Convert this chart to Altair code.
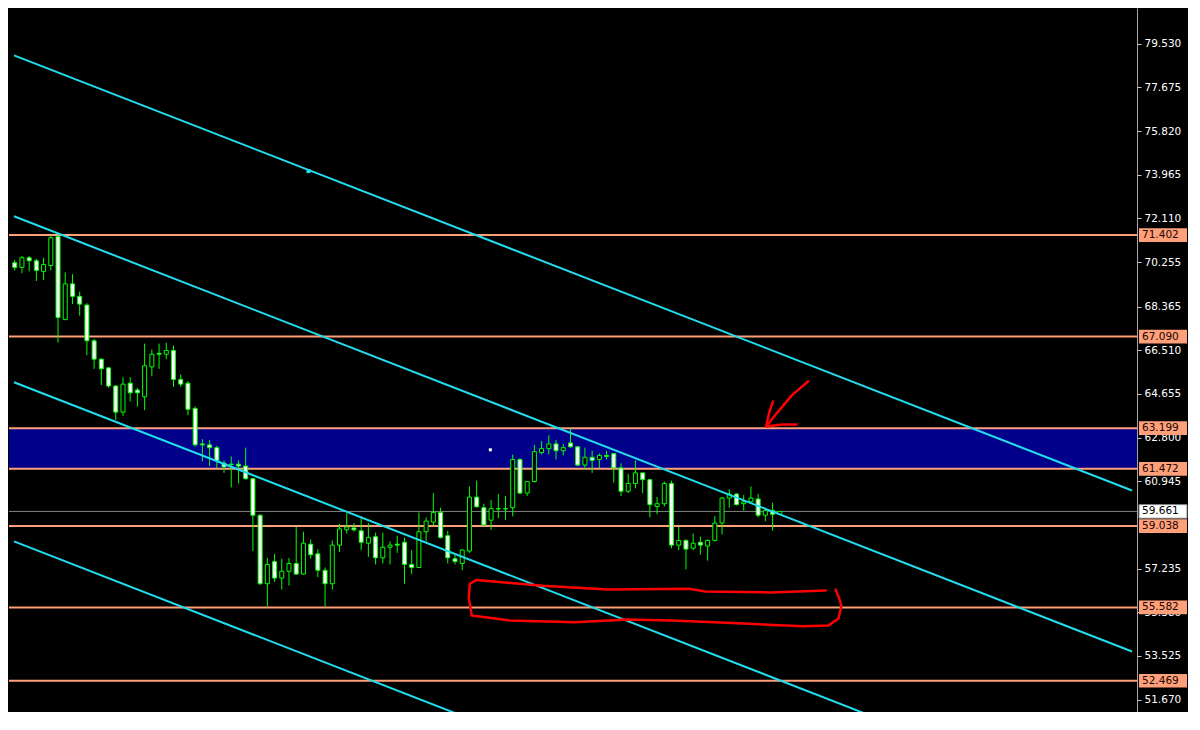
import altair as alt
import pandas as pd

# ---------------- data ----------------
opens = [70.23, 70.03, 70.44, 70.31, 69.86, 70.11, 71.34, 67.81, 69.33, 68.80,
         68.43, 66.91, 66.13, 65.76, 64.99, 63.88, 65.11, 64.82, 64.53, 65.80,
         66.38, 66.34, 66.50, 65.27, 65.11, 64.04, 62.53, 62.49, 62.37, 61.71,
         61.67, 61.67, 61.59, 61.05, 59.50, 56.59, 57.53, 56.83, 57.12, 57.45,
         57.00, 58.27, 57.86, 57.16, 56.59, 58.23, 58.88, 58.96, 58.84, 58.31,
         58.59, 57.69, 58.14, 58.27, 58.35, 57.41, 57.28, 58.80, 59.21, 59.62,
         58.63, 57.65, 57.45, 57.98, 60.27, 59.82, 59.29, 59.78, 59.78, 59.82,
         61.87, 60.44, 60.93, 62.16, 62.33, 62.53, 62.24, 62.57, 62.41, 61.63,
         61.96, 61.87, 62.04, 62.12, 61.51, 60.52, 60.85, 61.30, 61.01, 59.87,
         59.99, 60.85, 58.23, 58.43, 58.10, 58.35, 58.19, 58.43, 59.17, 60.23,
         60.40, 59.99, 60.07, 60.19, 59.50, 59.70, 59.54]
highs = [70.35, 70.52, 70.52, 70.39, 70.44, 71.38, 71.40, 69.82, 69.74, 69.00,
         68.51, 66.99, 66.17, 65.80, 65.03, 65.36, 65.36, 64.91, 66.79, 66.54,
         66.79, 66.83, 66.71, 65.48, 65.19, 64.12, 62.73, 62.69, 62.45, 61.83,
         62.00, 61.83, 62.37, 61.09, 59.54, 57.69, 57.86, 57.65, 57.69, 59.00,
         58.80, 58.47, 58.06, 57.28, 58.43, 59.13, 59.58, 59.17, 59.45, 59.17,
         58.76, 58.76, 58.39, 58.63, 58.55, 58.02, 59.62, 59.41, 60.44, 59.82,
         58.84, 57.86, 58.06, 60.72, 60.97, 59.99, 60.15, 60.40, 60.32, 62.08,
         61.92, 60.93, 62.49, 62.65, 62.90, 62.69, 62.53, 63.18, 62.41, 62.37,
         62.24, 62.12, 62.24, 62.12, 61.71, 61.26, 61.83, 61.30, 61.01, 60.27,
         60.93, 60.97, 59.00, 58.47, 58.72, 58.59, 58.47, 59.46, 60.27, 60.60,
         60.44, 60.36, 60.72, 60.40, 59.82, 60.03, 59.66]
lows = [69.90, 69.78, 69.86, 69.45, 69.49, 69.90, 66.83, 67.81, 68.47, 67.98,
        66.30, 65.72, 65.03, 64.91, 63.55, 63.72, 64.33, 64.12, 63.96, 65.40,
        65.72, 66.13, 64.95, 64.95, 63.76, 62.41, 61.79, 61.59, 61.51, 61.30,
        60.68, 60.85, 61.01, 57.98, 56.55, 55.64, 56.67, 56.34, 56.51, 56.96,
        56.96, 57.65, 56.87, 55.64, 56.34, 57.94, 58.72, 58.80, 58.02, 57.73,
        57.41, 57.45, 57.41, 57.90, 56.59, 57.00, 57.28, 58.39, 59.05, 58.51,
        57.45, 57.41, 57.16, 57.90, 59.82, 59.05, 58.88, 59.37, 59.29, 59.45,
        60.40, 60.32, 60.89, 62.08, 62.08, 61.87, 62.04, 62.37, 61.59, 61.42,
        61.30, 61.51, 61.87, 60.89, 60.31, 60.44, 60.64, 60.44, 59.41, 59.54,
        59.87, 58.10, 58.02, 57.20, 58.02, 57.82, 57.57, 58.39, 58.68, 59.82,
        59.91, 59.70, 60.03, 59.41, 59.25, 58.84, 59.54]
closes = [70.03, 70.44, 70.31, 69.90, 70.15, 71.29, 67.90, 69.33, 68.80, 68.47,
          66.91, 66.13, 65.72, 64.99, 63.88, 65.07, 64.70, 64.70, 65.85, 66.34,
          66.34, 66.50, 65.27, 65.07, 64.00, 62.49, 62.49, 62.37, 61.83, 61.55,
          61.65, 61.59, 61.05, 59.50, 56.59, 57.41, 56.83, 57.12, 57.45, 57.00,
          58.31, 57.82, 57.16, 56.59, 58.23, 58.92, 59.00, 58.88, 58.35, 58.55,
          57.69, 58.14, 58.23, 58.23, 57.41, 57.28, 58.80, 59.25, 59.62, 58.55,
          57.69, 57.53, 58.02, 60.27, 59.86, 59.09, 59.78, 59.77, 59.77, 61.87,
          60.44, 60.93, 62.20, 62.33, 62.53, 62.24, 62.37, 62.41, 61.63, 61.96,
          61.83, 62.04, 62.00, 61.51, 60.52, 60.85, 61.30, 61.01, 59.95, 59.99,
          60.85, 58.23, 58.43, 58.06, 58.31, 58.23, 58.43, 59.17, 60.23, 60.40,
          59.95, 60.07, 60.23, 59.50, 59.70, 59.54, 59.66]

level_prices = [71.402, 67.090, 63.199, 61.472, 59.038, 55.582, 52.469]
bid_price = 59.661
zone_low, zone_high = 61.472, 63.199
# 59.090 sits fully under the 59.038 price box in the reference, so it is not drawn
axis_values = [79.530, 77.675, 75.820, 73.965, 72.110, 70.255, 68.365, 66.510,
               64.655, 62.800, 60.945, 57.235, 55.380, 53.525, 51.670]

# parallel channel lines: price at left edge and at right edge (bar index)
channel_x = [-0.1, 154.8]
channel_left = [79.04, 72.20, 65.15, 58.39]
channel_right = [60.55, 53.71, 46.66, 39.90]

anchor_i, anchor_p = 40.7, 74.12
marker_i, marker_p = 65.9, 62.28

# red hand-drawn annotations (bar index, price)
loop_i = [112.37, 104.65, 95.70, 93.40, 82.15, 73.08, 64.00, 63.05, 62.91, 63.32,
          68.60, 77.55, 84.87, 91.09, 100.18, 109.26, 112.78, 114.13, 114.54,
          114.13, 113.73]
loop_p = [56.30, 56.22, 56.26, 56.38, 56.34, 56.50, 56.75, 56.59, 55.97, 55.24,
          55.03, 54.95, 55.07, 55.03, 54.91, 54.78, 54.82, 55.11, 55.65, 56.05,
          56.34]
shaft_i = [109.93, 107.63, 105.60, 104.24]
shaft_p = [65.19, 64.58, 63.84, 63.31]
head_i = [105.05, 104.51, 104.11, 106.28, 108.31]
head_p = [64.33, 63.84, 63.27, 63.35, 63.35]

# ---------------- chart ----------------
W, H = 1128, 704
X_DOM = [-0.1, 154.8]
Y_DOM = [51.14, 81.05]
FONT = "DejaVu Sans"

xs = alt.Scale(domain=X_DOM, nice=False, zero=False)
ys = alt.Scale(domain=Y_DOM, nice=False, zero=False)
yaxis = alt.Axis(orient="right", values=axis_values, format=".3f", title=None,
                 grid=False, labelColor="#FFFFFF", labelFont=FONT, labelFontSize=10.5,
                 tickColor="#C8C8C8", tickSize=4, labelPadding=3,
                 domainColor="#A8A8A8", domainWidth=1, labelOverlap=False, zindex=0)


def X(f):
    return alt.X(f, type="quantitative", scale=xs, axis=None)


def Y(f):
    return alt.Y(f, type="quantitative", scale=ys, axis=yaxis)


candles = pd.DataFrame({"i": list(range(len(opens))), "open": opens, "high": highs,
                        "low": lows, "close": closes})

zone = alt.Chart(pd.DataFrame({"lo": [zone_low], "hi": [zone_high]})).mark_rect(
    color="#00008B").encode(x=alt.value(0), x2=alt.value(W), y=Y("hi"), y2="lo")

levels_df = pd.DataFrame({"p": level_prices})
levels = alt.Chart(levels_df).mark_rule(color="#FFA07A", strokeWidth=2).encode(y=Y("p"))

bid_df = pd.DataFrame({"p": [bid_price]})
bid = alt.Chart(bid_df).mark_rule(color="#808080", strokeWidth=1).encode(y=Y("p"))

wicks = alt.Chart(candles).mark_rule(color="#00FF00", strokeWidth=1).encode(
    x=X("i"), y=Y("low"), y2="high")

bodies = alt.Chart(candles).mark_bar(size=4, stroke="#00FF00", strokeWidth=1).encode(
    x=X("i"), y=Y("open"), y2="close",
    fill=alt.condition("datum.close >= datum.open", alt.value("#000000"), alt.value("#FFFFFF")))

ch_rows = []
for k in range(len(channel_left)):
    ch_rows.append({"line": k, "x": channel_x[0], "y": channel_left[k]})
    ch_rows.append({"line": k, "x": channel_x[1], "y": channel_right[k]})
channels = alt.Chart(pd.DataFrame(ch_rows)).mark_line(
    color="#22DDEE", strokeWidth=2, clip=True).encode(
    x=X("x"), y=Y("y"), detail="line:N")

anchor = alt.Chart(pd.DataFrame({"i": [anchor_i], "p": [anchor_p]})).mark_square(
    size=16, color="#22DDEE", opacity=1).encode(x=X("i"), y=Y("p"))
marker = alt.Chart(pd.DataFrame({"i": [marker_i], "p": [marker_p]})).mark_square(
    size=9, color="#FFFFFF", opacity=1).encode(x=X("i"), y=Y("p"))

ann_rows = []
for seg, (ii, pp) in enumerate([(loop_i, loop_p), (shaft_i, shaft_p), (head_i, head_p)]):
    for n, (a, b) in enumerate(zip(ii, pp)):
        ann_rows.append({"seg": seg, "n": n, "i": a, "p": b})
ann = alt.Chart(pd.DataFrame(ann_rows)).mark_line(
    color="#FF0000", strokeWidth=2.5, strokeJoin="round", strokeCap="round").encode(
    x=X("i"), y=Y("p"), detail="seg:N", order="n:Q")

box_df = pd.DataFrame({"p": level_prices})
boxes = alt.Chart(box_df).transform_calculate(
    top="datum.p + 0.29", bot="datum.p - 0.29").mark_rect(color="#FFA07A").encode(
    x=alt.value(W + 2), x2=alt.value(W + 50), y=Y("top:Q"), y2="bot:Q")
box_text = alt.Chart(box_df).mark_text(
    align="left", baseline="middle", font=FONT, fontSize=10.5, color="#1A0500").encode(
    x=alt.value(W + 5), y=Y("p"), text=alt.Text("p:Q", format=".3f"))

bid_box = alt.Chart(bid_df).transform_calculate(
    top="datum.p + 0.29", bot="datum.p - 0.29").mark_rect(
    color="#FFFFFF", stroke="#808080", strokeWidth=1).encode(
    x=alt.value(W + 2), x2=alt.value(W + 50), y=Y("top:Q"), y2="bot:Q")
bid_text = alt.Chart(bid_df).mark_text(
    align="left", baseline="middle", font=FONT, fontSize=10.5, color="#000000").encode(
    x=alt.value(W + 5), y=Y("p"), text=alt.Text("p:Q", format=".3f"))

chart = alt.layer(
    zone, levels, bid, wicks, bodies, channels, anchor, marker, ann,
    boxes, box_text, bid_box, bid_text
).properties(
    width=W, height=H, background="#000000",
    padding={"left": 0, "top": 0, "right": 0, "bottom": 0}
).configure_view(strokeWidth=0)

chart.save("out.html", embed_options={"renderer": "svg", "actions": False})
